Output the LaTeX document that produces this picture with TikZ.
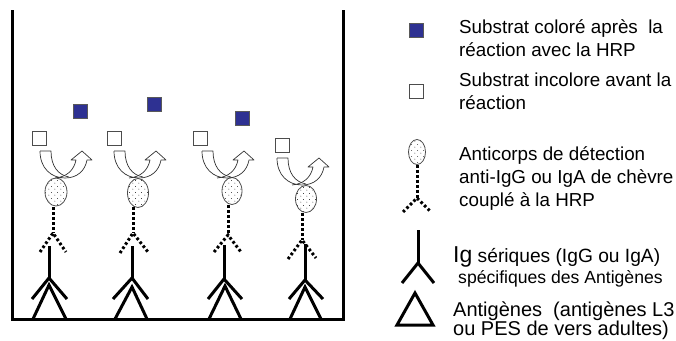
\documentclass[tikz,border=0pt]{standalone}
\usepackage{fontspec}
\setmainfont{Liberation Sans}
\usetikzlibrary{shapes.geometric,patterns}
\definecolor{substratblue}{HTML}{2E3192}
% sparse staggered dots used inside the HRP ellipses
\pgfdeclarepatternformonly{sparsedots}{\pgfpoint{0pt}{0pt}}{\pgfpoint{6pt}{6pt}}{\pgfpoint{6pt}{6pt}}{%
  \pgfpathcircle{\pgfpoint{1pt}{1pt}}{0.45pt}%
  \pgfpathcircle{\pgfpoint{4pt}{4pt}}{0.45pt}%
  \pgfusepath{fill}}
\begin{document}
\begin{tikzpicture}[x=1pt,y=-1pt,
  wall/.style={line width=3pt},
  ig/.style={line width=3pt},
  detab/.style={line width=3pt, dash pattern=on 2.6pt off 2.4pt},
  hrp/.style={ellipse, draw=black!70, line width=0.8pt, fill=white, pattern=sparsedots, inner sep=0pt},
  subcol/.style={draw=black!65, fill=substratblue, line width=0.8pt, minimum size=14pt, inner sep=0pt},
  subinc/.style={draw=black!70, fill=white, line width=0.8pt, minimum size=14pt, inner sep=0pt},
  turn/.style={draw=black!80, line width=0.7pt, line join=round},
  legendtext/.style={anchor=base west, inner sep=0pt, font=\fontsize{18.8}{23}\selectfont},
  midtext/.style={legendtext, font=\fontsize{19.2}{22}\selectfont},
  smalltext/.style={legendtext, font=\fontsize{17.6}{21}\selectfont},
  largetext/.style={legendtext, font=\fontsize{20}{23}\selectfont},
  turnarrow/.pic={
    % left arm of the U-turn band
    \draw[turn] (-23,-27) -- (-12,-27) .. controls (-12,-12) and (-5,-3) .. (6,-1);
    % outer edge, shaft and arrow head
    \draw[turn] (-23,-27) .. controls (-23,-10) and (-12,0) .. (2,0)
      .. controls (14,0) and (22,-7) .. (24,-18) -- (29,-18) -- (19,-27) -- (8,-18) -- (13,-18)
      .. controls (11,-8) and (4,-1) .. (-8,0);
  }]
\path[use as bounding box] (0,0) rectangle (676,340);

% the well
\draw[wall] (12,10) -- (12,319) -- (343,319) -- (343,10);

% ---- unit 1
\draw[ig] (33,319) -- (49,285) -- (66,319);
\draw[ig] (32,299) -- (49,278) -- (67,299);
\draw[ig] (49,278) -- (49,246);
\draw[detab] (53,207) -- (53,233);
\draw[detab] (40,252) -- (53,233) -- (66,252);
\node[hrp, minimum width=22pt, minimum height=28pt] (hrp1) at (56,192) {};
\pic at (63,178) {turnarrow};
\node[subinc] (inc1) at (39,138) {};
\node[subcol] (col1) at (80,111) {};

% ---- unit 2
\draw[ig] (115,319) -- (132,287) -- (147,319);
\draw[ig] (113,299) -- (132,278) -- (148,299);
\draw[ig] (132,278) -- (132,246);
\draw[detab] (133,207) -- (133,233);
\draw[detab] (120,253) -- (133,233) -- (148,252);
\node[hrp, minimum width=21pt, minimum height=29pt] (hrp2) at (138,193) {};
\pic at (137,178) {turnarrow};
\node[subinc] (inc2) at (114,138) {};
\node[subcol] (col2) at (154,104) {};

% ---- unit 3
\draw[ig] (209,319) -- (225,286) -- (241,319);
\draw[ig] (208,299) -- (224,279) -- (242,299);
\draw[ig] (224,279) -- (224,245);
\draw[detab] (228,205) -- (228,235);
\draw[detab] (214,252) -- (228,235) -- (241,252);
\node[hrp, minimum width=20pt, minimum height=27pt] (hrp3) at (232,191) {};
\pic at (225,178) {turnarrow};
\node[subinc] (inc3) at (200,138) {};
\node[subcol] (col3) at (242,118) {};

% ---- unit 4
\draw[ig] (290,319) -- (305,287) -- (321,319);
\draw[ig] (289,299) -- (305,280) -- (323,299);
\draw[ig] (305,280) -- (305,244);
\draw[detab] (302,213) -- (302,240);
\draw[detab] (288,259) -- (302,240) -- (316,258);
\node[hrp, minimum width=21pt, minimum height=27pt] (hrp4) at (306,199) {};
\pic at (300,185) {turnarrow};
\node[subinc] (inc4) at (282,145) {};

% ---- legend
\node[subcol] (lcol) at (416.5,30) {};
\node[legendtext] (t1a) at (459,33) {Substrat coloré après \ la};
\node[legendtext] (t1b) at (459,56) {réaction avec la HRP};

\node[subinc] (linc) at (416,91.5) {};
\node[legendtext] (t2a) at (459,86) {Substrat incolore avant la};
\node[legendtext] (t2b) at (459,109) {réaction};

\node[hrp, minimum width=17pt, minimum height=25pt] (lhrp) at (417,152) {};
\draw[detab] (lhrp.south) -- (417,198);
\draw[detab] (403,212) -- (417,198) -- (431,212);
\node[legendtext] (t3a) at (459,160) {Anticorps de détection};
\node[legendtext] (t3b) at (459,183) {anti-IgG ou IgA de chèvre};
\node[legendtext] (t3c) at (459,206) {couplé à la HRP};

\draw[ig] (418,230) -- (418,263);
\draw[ig] (402,283) -- (418,263) -- (434,283);
\node[midtext] (t4a) at (453,262) {{\fontsize{23}{23}\selectfont Ig} sériques (IgG ou IgA)};
\node[smalltext] (t4b) at (458,283) {spécifiques des Antigènes};

\draw[ig] (415,293) -- (397,325) -- (433,325) -- cycle;
\node[largetext] (t5a) at (453,316) {Antigènes \ (antigènes L3};
\node[largetext] (t5b) at (453,335) {ou PES de vers adultes)};
\end{tikzpicture}
\end{document}
